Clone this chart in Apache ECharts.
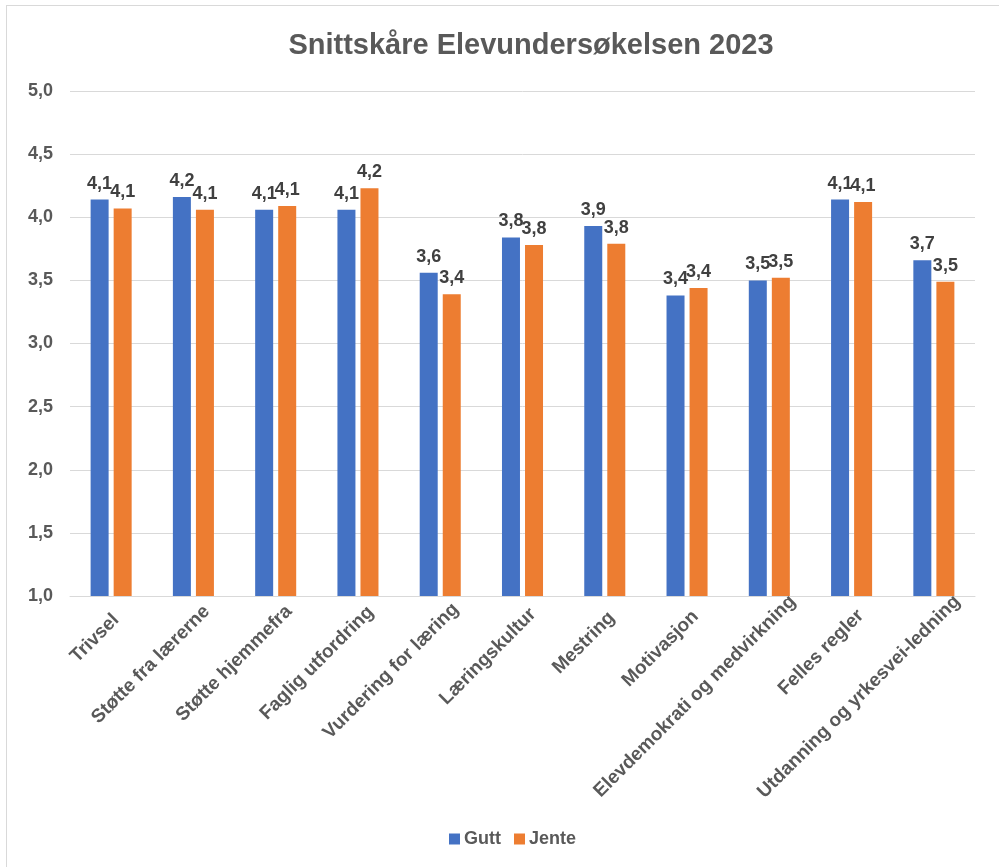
<!DOCTYPE html>
<html>
<head>
<meta charset="utf-8">
<script src="https://cdn.jsdelivr.net/npm/echarts@6/dist/echarts.min.js"></script>
<style>
  html, body { margin: 0; padding: 0; background: #fff; }
  #frame { position: absolute; left: 6px; top: 5px; width: 1000px; height: 870px; border: 1px solid #d9d9d9; box-sizing: border-box; }
  #main { position: absolute; left: 0; top: 0; width: 999px; height: 867px; }
</style>
</head>
<body>
<div id="frame"></div>
<div id="main"></div>
<script>
var categories = ['Trivsel', 'Støtte fra lærerne', 'Støtte hjemmefra', 'Faglig utfordring',
  'Vurdering for læring', 'Læringskultur', 'Mestring', 'Motivasjon',
  'Elevdemokrati og medvirkning', 'Felles regler', 'Utdanning og yrkesvei-ledning'];
var gutt = [4.14, 4.16, 4.06, 4.06, 3.56, 3.84, 3.93, 3.38, 3.50, 4.14, 3.66];
var jente = [4.07, 4.06, 4.09, 4.23, 3.39, 3.78, 3.79, 3.44, 3.52, 4.12, 3.49];
var yTicks = [1.0, 1.5, 2.0, 2.5, 3.0, 3.5, 4.0, 4.5, 5.0];

var font = '"Liberation Sans", Arial, sans-serif';
function comma(v) { return v.toFixed(1).replace('.', ','); }

// rotated labels sit a bit past the tick, further for long names (like Excel)
var ctx = document.createElement('canvas').getContext('2d');
ctx.font = 'bold 19px "Liberation Sans"';
var xData = categories.map(function (c) {
  var w = ctx.measureText(c).width;
  return { value: c, textStyle: { padding: [0, -Math.round(w * 0.12), 0, 0] } };
});

var myChart = echarts.init(document.getElementById('main'));

var labelStyle = {
  show: true,
  position: 'top',
  distance: 7,
  fontFamily: font,
  fontWeight: 'bold',
  fontSize: 18,
  color: '#404040',
  formatter: function (p) { return comma(p.value); }
};

myChart.setOption({
  animation: false,
  title: {
    text: 'Snittskåre Elevundersøkelsen 2023',
    left: 526,
    textAlign: 'center',
    top: 26,
    textStyle: { fontFamily: font, fontWeight: 'bold', fontSize: 29, color: '#595959' }
  },
  legend: {
    data: ['Gutt', 'Jente'],
    top: 825,
    left: 444,
    itemWidth: 11,
    itemHeight: 11,
    itemGap: 13,
    icon: 'rect',
    textStyle: { fontFamily: font, fontWeight: 'bold', fontSize: 18, color: '#595959', padding: [0, 0, 0, -1] }
  },
  grid: { left: 70, right: 24, top: 91, bottom: 271 },
  xAxis: {
    type: 'category',
    data: xData,
    axisTick: { show: false },
    axisLine: { lineStyle: { color: '#d9d9d9', width: 1 } },
    axisLabel: {
      rotate: 45,
      interval: 0,
      margin: 26,
      verticalAlign: 'top',
      fontFamily: font,
      fontWeight: 'bold',
      fontSize: 19,
      color: '#595959'
    }
  },
  yAxis: {
    type: 'value',
    min: yTicks[0],
    max: yTicks[yTicks.length - 1],
    interval: 0.5,
    axisLine: { show: false },
    axisTick: { show: false },
    splitLine: { lineStyle: { color: '#d9d9d9', width: 1 } },
    axisLabel: {
      margin: 17,
      fontFamily: font,
      fontWeight: 'bold',
      fontSize: 18,
      color: '#595959',
      formatter: function (v) { return comma(v); }
    }
  },
  series: [{
    name: 'Gutt',
    type: 'bar',
    data: gutt,
    barWidth: 18,
    barGap: '28%',
    itemStyle: { color: '#4472c4' },
    label: labelStyle
  }, {
    name: 'Jente',
    type: 'bar',
    data: jente,
    barWidth: 18,
    itemStyle: { color: '#ed7d31' },
    label: labelStyle
  }]
});
</script>
</body>
</html>
